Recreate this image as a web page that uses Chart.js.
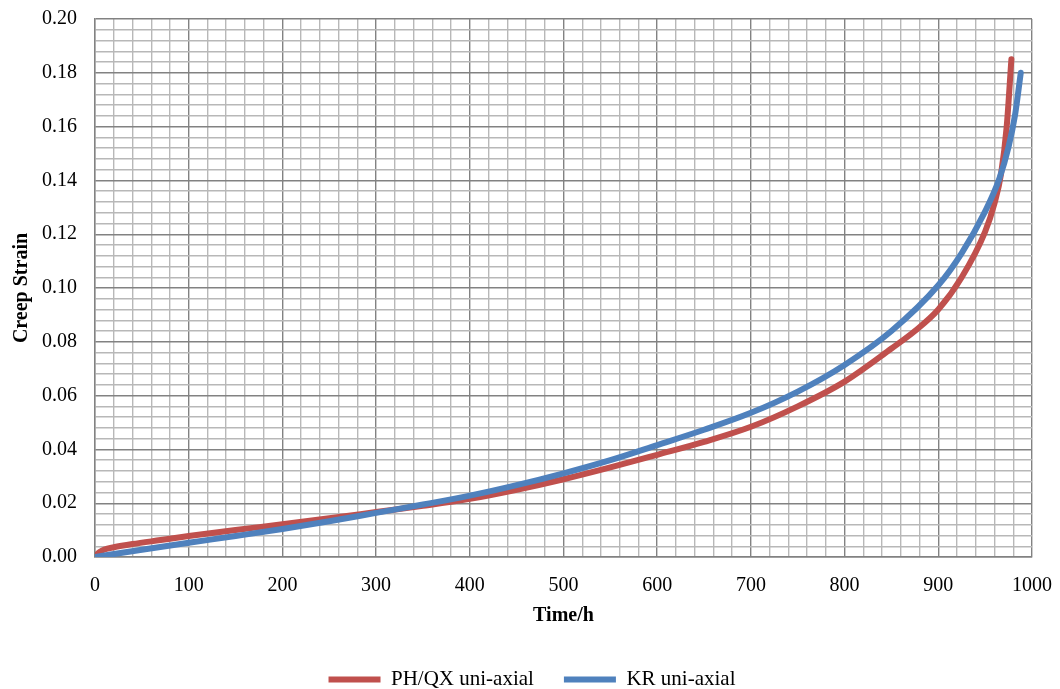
<!DOCTYPE html>
<html>
<head>
<meta charset="utf-8">
<script src="https://cdn.jsdelivr.net/npm/chart.js@4.4.1/dist/chart.umd.min.js"></script>
<style>
  html, body { margin: 0; padding: 0; background: #fff; overflow: hidden; }
  #wrap { width: 1060px; height: 700px; position: relative; }
</style>
</head>
<body>
<div id="wrap"><canvas id="creepChart"></canvas></div>
<script>
// PH/QX uni-axial (red)
var timeRed = [0, 2, 5, 10, 20, 40, 70, 100, 150, 200, 250, 300, 350, 400, 450, 500, 550, 600, 650, 700, 750, 800, 850, 875, 900, 925, 950, 960, 967, 973, 978];
var strainRed = [0, 0.0010, 0.0019, 0.0028, 0.0036, 0.0048, 0.0063, 0.0078, 0.0100, 0.0122, 0.0144, 0.0167, 0.0190, 0.0216, 0.0250, 0.0289, 0.0333, 0.0380, 0.0428, 0.0484, 0.0560, 0.0652, 0.0775, 0.0840, 0.0920, 0.1040, 0.1210, 0.1315, 0.1425, 0.1600, 0.1850];

// KR uni-axial (blue)
var timeBlue = [0, 50, 100, 150, 200, 250, 300, 350, 400, 450, 500, 550, 600, 650, 700, 750, 800, 850, 900, 925, 950, 965, 975, 982, 988];
var strainBlue = [0, 0.0027, 0.0053, 0.0078, 0.0104, 0.0133, 0.0164, 0.0195, 0.0228, 0.0267, 0.0311, 0.0360, 0.0416, 0.0473, 0.0536, 0.0615, 0.0714, 0.0840, 0.1010, 0.1130, 0.1285, 0.1405, 0.1525, 0.1645, 0.1800];

var seriesNames = ['PH/QX uni-axial', 'KR uni-axial'];
var xTicksMajor = 100;
var yTicksMajor = 0.02;

function toPoints(xs, ys) {
    return xs.map(function (x, i) { return { x: x, y: ys[i] }; });
}

function isMajor(value, step) {
    var r = value / step;
    return Math.abs(r - Math.round(r)) < 1e-6;
}

var serif = '"Liberation Serif", "Times New Roman", serif';
var majorGrid = '#828282';
var minorGrid = '#b8b8b8';

// nudge the legend to the right, it sits a bit off-centre in the original
var legendShift = {
    id: 'legendShift',
    afterLayout: function (chart) {
        chart.legend.left += 16;
        chart.legend.right += 16;
    }
};

var ctx = document.getElementById('creepChart').getContext('2d');
var chart = new Chart(ctx, {
    type: 'line',
    data: {
        datasets: [{
            label: seriesNames[0],
            data: toPoints(timeRed, strainRed),
            borderColor: '#C0504D',
            backgroundColor: '#C0504D',
            borderWidth: 6,
            borderCapStyle: 'round',
            pointRadius: 0,
            cubicInterpolationMode: 'monotone',
            order: 2
        }, {
            label: seriesNames[1],
            data: toPoints(timeBlue, strainBlue),
            borderColor: '#4F81BD',
            backgroundColor: '#4F81BD',
            borderWidth: 6,
            borderCapStyle: 'round',
            pointRadius: 0,
            cubicInterpolationMode: 'monotone',
            order: 1
        }]
    },
    plugins: [legendShift],
    options: {
        responsive: true,
        maintainAspectRatio: false,
        animation: false,
        layout: { padding: { top: 19, right: 28, left: 0, bottom: 0 } },
        plugins: {
            tooltip: { enabled: false },
            legend: {
                position: 'bottom',
                labels: {
                    usePointStyle: true,
                    pointStyle: 'line',
                    pointStyleWidth: 52,
                    padding: 30,
                    color: '#000',
                    font: { family: serif, size: 21 },
                    sort: function (a, b) { return a.datasetIndex - b.datasetIndex; }
                }
            }
        },
        scales: {
            x: {
                type: 'linear',
                min: 0,
                max: 1000,
                afterFit: function (scale) {
                    scale.height = 82;
                    scale.paddingLeft = 0;
                    scale.paddingRight = 0;
                },
                ticks: {
                    stepSize: 20,
                    autoSkip: false,
                    maxTicksLimit: 100,
                    maxRotation: 0,
                    padding: 17,
                    color: '#000',
                    font: { family: serif, size: 20 },
                    callback: function (v) { return isMajor(v, xTicksMajor) ? String(v) : ''; }
                },
                grid: {
                    drawTicks: false,
                    color: function (c) { return c.tick && isMajor(c.tick.value, xTicksMajor) ? majorGrid : minorGrid; },
                    lineWidth: 1.4
                },
                border: { color: majorGrid, width: 1.4 },
                title: {
                    display: true,
                    text: 'Time/h',
                    color: '#000',
                    font: { family: serif, size: 20, weight: 'bold' },
                    padding: { top: 0, bottom: 11 }
                }
            },
            y: {
                min: 0,
                max: 0.2,
                afterFit: function (scale) {
                    scale.width = 95;
                    scale.paddingTop = 0;
                    scale.paddingBottom = 0;
                },
                ticks: {
                    stepSize: 0.004,
                    autoSkip: false,
                    maxTicksLimit: 100,
                    padding: 18,
                    color: '#000',
                    font: { family: serif, size: 20 },
                    callback: function (v) { return isMajor(v, yTicksMajor) ? v.toFixed(2) : ''; }
                },
                grid: {
                    drawTicks: false,
                    color: function (c) { return c.tick && isMajor(c.tick.value, yTicksMajor) ? majorGrid : minorGrid; },
                    lineWidth: 1.4
                },
                border: { color: majorGrid, width: 1.4 },
                title: {
                    display: true,
                    text: 'Creep Strain',
                    color: '#000',
                    font: { family: serif, size: 20, weight: 'bold' },
                    padding: { top: 10, bottom: 0 }
                }
            }
        }
    }
});
</script>
</body>
</html>
